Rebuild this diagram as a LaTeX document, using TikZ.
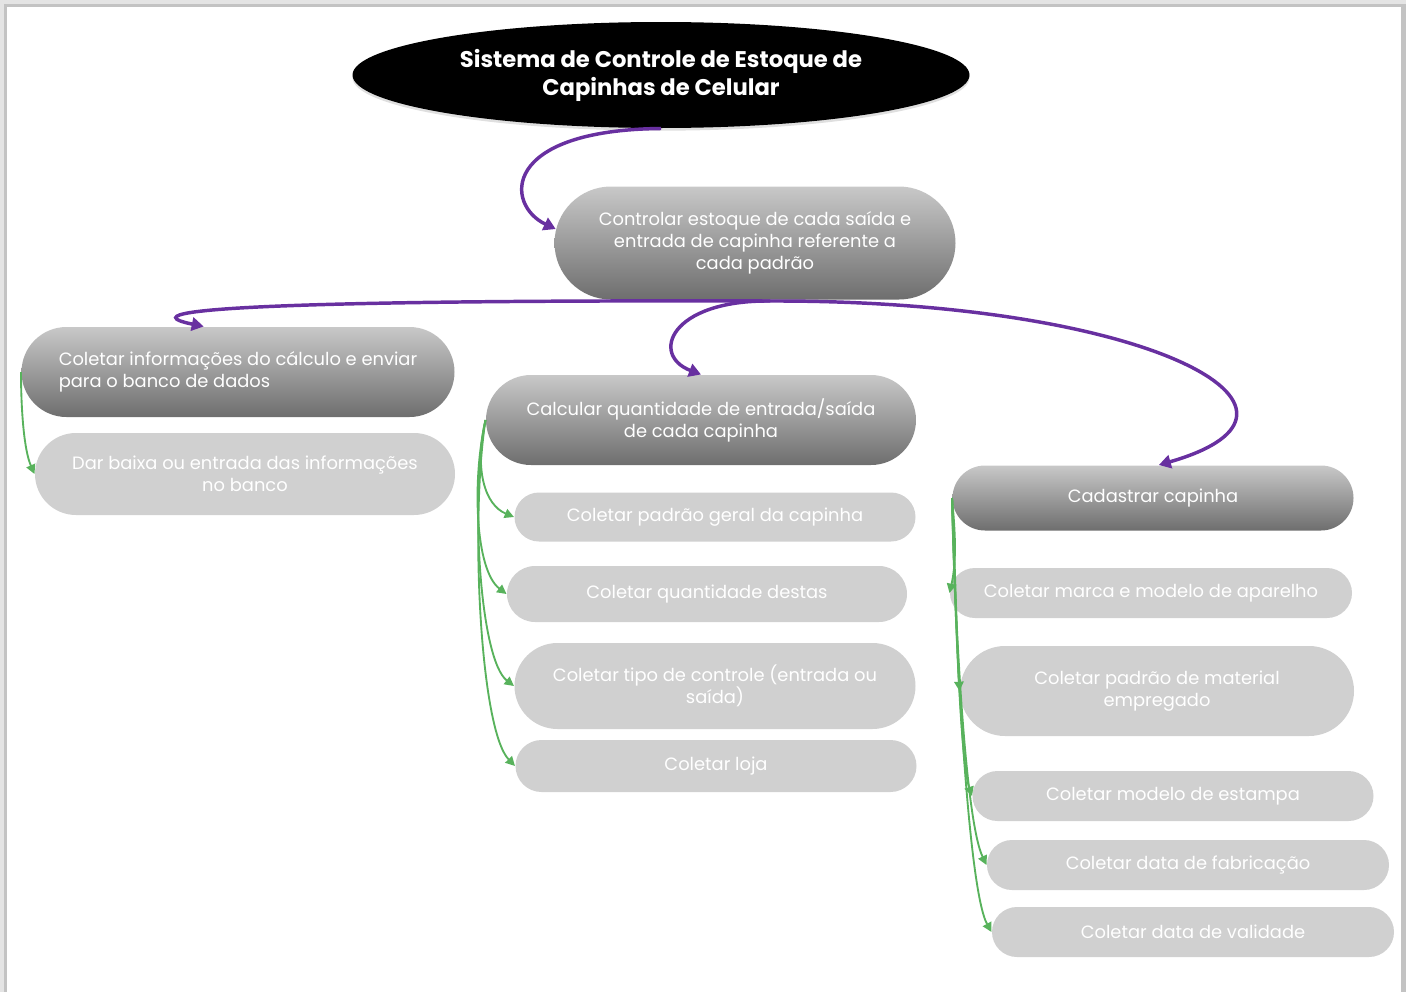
\documentclass[tikz,border=0pt]{standalone}
\usepackage{fontspec}
\setmainfont{Poppins}
\usetikzlibrary{shapes.misc,shapes.geometric,arrows.meta,shadows}

\definecolor{linkpurple}{RGB}{104,48,160}
\definecolor{linkgreen}{RGB}{88,178,92}
\definecolor{boxtop}{RGB}{200,200,200}
\definecolor{boxbot}{RGB}{110,110,110}
\definecolor{boxlight}{RGB}{208,208,208}
\definecolor{framegray}{RGB}{195,195,195}
\definecolor{framelight}{RGB}{228,228,228}

\tikzset{every picture/.style={line width=0.75pt}}
\tikzset{
  titlebox/.style={ellipse, fill=black, text=white, inner sep=0pt, align=center,
    font=\fontsize{17}{21}\selectfont\bfseries,
    drop shadow={opacity=0.25, shadow xshift=0pt, shadow yshift=-2pt}},
  mainbox/.style={rounded rectangle, top color=boxtop, bottom color=boxbot, text=white,
    inner sep=0pt, align=center, font=\fontsize{13.4}{16.5}\selectfont},
  subbox/.style={rounded rectangle, fill=boxlight, text=white,
    inner sep=0pt, align=center, font=\fontsize{13.4}{16.5}\selectfont},
  mainlink/.style={draw=linkpurple, line width=2.6pt, -{Triangle[length=9pt,width=10pt]}},
  sublink/.style={draw=linkgreen, line width=1.4pt, -{Triangle[length=7pt,width=7pt]}}
}

\begin{document}
\begin{tikzpicture}[x=0.75pt,y=0.75pt,yscale=-1,xscale=1]
\useasboundingbox (0,0) rectangle (1406,992);

%Frame of the page
\fill[framelight] (0,0) rectangle (1406,4);
\fill[framelight] (0,0) rectangle (4,992);
\fill[framegray] (4,4) rectangle (1401,7);
\fill[framegray] (4,4) rectangle (7,992);
\fill[framegray] (1401,4) rectangle (1406,992);

% Title
\node[titlebox, minimum width=462.75pt, minimum height=79.5pt] (title) at (661,75)
  {Sistema de Controle de Estoque de\\Capinhas de Celular};

% Level one
\node[mainbox, minimum width=300.75pt, minimum height=84.75pt] (ctrl) at (755,243)
  {Controlar estoque de cada saída e\\entrada de capinha referente a\\cada padrão};

% Level two
\node[mainbox, align=left, minimum width=324.75pt, minimum height=67.5pt] (info) at (238,372)
  {Coletar informações do cálculo e enviar\\para o banco de dados};
\node[mainbox, minimum width=322.5pt, minimum height=67.5pt] (calc) at (701,420)
  {Calcular quantidade de entrada/saída\\de cada capinha};
\node[mainbox, minimum width=300.75pt, minimum height=48.75pt] (cad) at (1153,498)
  {Cadastrar capinha};

% Leaves
\node[subbox, minimum width=315pt, minimum height=61.5pt] (dar) at (245,474)
  {Dar baixa ou entrada das informações\\no banco};
\node[subbox, minimum width=300.75pt, minimum height=36.75pt] (pad) at (715,517)
  {Coletar padrão geral da capinha};
\node[subbox, minimum width=300pt, minimum height=42pt] (qtd) at (707,594)
  {Coletar quantidade destas};
\node[subbox, minimum width=300.75pt, minimum height=64.5pt] (tipo) at (715,686)
  {Coletar tipo de controle (entrada ou\\saída)};
\node[subbox, minimum width=300.75pt, minimum height=39pt] (loja) at (716,766)
  {Coletar loja};
\node[subbox, minimum width=301.5pt, minimum height=37.5pt] (marca) at (1151,593)
  {Coletar marca e modelo de aparelho};
\node[subbox, minimum width=295.5pt, minimum height=67.5pt] (mat) at (1157,691)
  {Coletar padrão de material\\empregado};
\node[subbox, minimum width=300.75pt, minimum height=37.5pt] (est) at (1173,796)
  {Coletar modelo de estampa};
\node[subbox, minimum width=301.5pt, minimum height=37.5pt] (fab) at (1188,865)
  {Coletar data de fabricação};
\node[subbox, minimum width=301.5pt, minimum height=37.5pt] (val) at (1193,932)
  {Coletar data de validade};

% Purple links
\coordinate (hub) at (770,301);
\draw[mainlink] (title.south) .. controls (500,130) and (505,205) .. (ctrl.176);
\draw[mainlink] (hub) .. controls (400,300) and (100,305) .. (info.127);
\draw[mainlink] (hub) .. controls (670,300) and (650,355) .. (calc.north);
\draw[mainlink] (hub) .. controls (1150,300) and (1350,410) .. (cad.80);

% Green links
\draw[sublink] (info.west) .. controls (21,410) and (24,450) .. (dar.west);
\draw[sublink] (calc.west) .. controls (474,470) and (485,505) .. (pad.west);
\draw[sublink] (calc.west) .. controls (472,480) and (475,570) .. (qtd.west);
\draw[sublink] (calc.west) .. controls (470,500) and (480,660) .. (tipo.west);
\draw[sublink] (calc.west) .. controls (470,520) and (480,730) .. (loja.west);
\draw[sublink] (cad.west) .. controls (955,530) and (957,560) .. (marca.west);
\draw[sublink] (cad.west) .. controls (955,560) and (957,650) .. (mat.west);
\draw[sublink] (cad.west) .. controls (955,600) and (960,760) .. (est.west);
\draw[sublink] (cad.west) .. controls (955,620) and (965,820) .. (fab.west);
\draw[sublink] (cad.west) .. controls (955,640) and (968,890) .. (val.west);

\end{tikzpicture}
\end{document}
